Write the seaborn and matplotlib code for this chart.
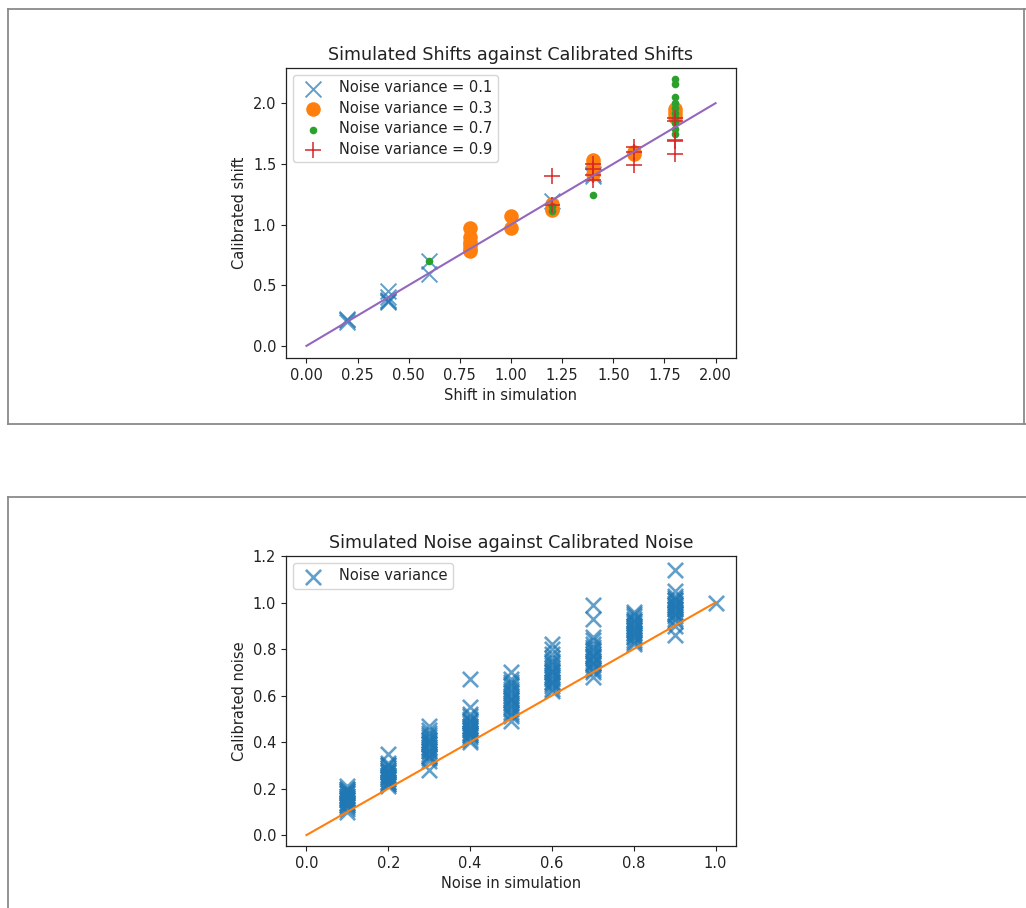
import matplotlib
matplotlib.use("Agg")
import matplotlib.pyplot as plt
from matplotlib.lines import Line2D
import seaborn as sns
import pandas as pd

# ---------------- Data: top chart (shift) ----------------
shift_v01_x = [0.2, 0.2, 0.2, 0.4, 0.4, 0.4, 0.4, 0.4, 0.6, 0.6, 1.2, 1.4, 1.4]
shift_v01_y = [0.20, 0.21, 0.22, 0.45, 0.40, 0.38, 0.36, 0.37, 0.70, 0.59, 1.19, 1.42, 1.40]

shift_v03_x = [0.8, 0.8, 0.8, 0.8, 0.8, 0.8, 1.0, 1.0, 1.2, 1.2, 1.2, 1.4, 1.4, 1.4, 1.6, 1.6, 1.8, 1.8, 1.8]
shift_v03_y = [0.97, 0.90, 0.86, 0.83, 0.80, 0.78, 1.07, 0.97, 1.17, 1.13, 1.12, 1.53, 1.50, 1.42, 1.60, 1.58, 1.92, 1.89, 1.95]

shift_v07_x = [0.6, 1.2, 1.2, 1.4, 1.8, 1.8, 1.8, 1.8, 1.8, 1.8, 1.8, 1.8, 1.8, 1.8]
shift_v07_y = [0.70, 1.11, 1.15, 1.24, 2.20, 2.16, 2.05, 2.00, 1.96, 1.92, 1.88, 1.84, 1.79, 1.75]

shift_v09_x = [1.2, 1.2, 1.4, 1.4, 1.4, 1.4, 1.6, 1.6, 1.6, 1.8, 1.8, 1.8, 1.8, 1.8]
shift_v09_y = [1.40, 1.16, 1.50, 1.46, 1.41, 1.37, 1.64, 1.60, 1.49, 1.88, 1.85, 1.70, 1.69, 1.58]

shift_line = [0.0, 2.0]

# ---------------- Data: bottom chart (noise) ----------------
noise_01 = [0.10, 0.12, 0.13, 0.14, 0.15, 0.15, 0.16, 0.16, 0.17, 0.17, 0.18, 0.18, 0.19, 0.20, 0.21, 0.13, 0.14, 0.19, 0.20, 0.11]
noise_02 = [0.21, 0.22, 0.23, 0.24, 0.25, 0.25, 0.26, 0.27, 0.27, 0.28, 0.29, 0.30, 0.31, 0.35, 0.24, 0.26, 0.28, 0.22, 0.30, 0.23]
noise_03 = [0.28, 0.32, 0.33, 0.34, 0.35, 0.36, 0.37, 0.38, 0.39, 0.40, 0.41, 0.42, 0.43, 0.44, 0.45, 0.47, 0.34, 0.36, 0.39, 0.41]
noise_04 = [0.40, 0.41, 0.42, 0.43, 0.44, 0.45, 0.46, 0.47, 0.48, 0.49, 0.50, 0.51, 0.52, 0.55, 0.67, 0.43, 0.45, 0.47, 0.49, 0.44]
noise_05 = [0.49, 0.51, 0.53, 0.54, 0.55, 0.56, 0.57, 0.58, 0.59, 0.60, 0.61, 0.62, 0.63, 0.64, 0.65, 0.66, 0.67, 0.70, 0.52, 0.58]
noise_06 = [0.62, 0.63, 0.64, 0.65, 0.66, 0.67, 0.68, 0.69, 0.70, 0.71, 0.72, 0.73, 0.74, 0.75, 0.76, 0.78, 0.80, 0.82, 0.66, 0.70]
noise_07 = [0.68, 0.70, 0.71, 0.72, 0.73, 0.74, 0.75, 0.76, 0.77, 0.78, 0.79, 0.80, 0.81, 0.82, 0.84, 0.85, 0.93, 0.99, 0.74, 0.77]
noise_08 = [0.82, 0.83, 0.84, 0.85, 0.86, 0.87, 0.88, 0.89, 0.90, 0.91, 0.92, 0.93, 0.94, 0.95, 0.96, 0.85, 0.88, 0.90, 0.92, 0.87]
noise_09 = [0.86, 0.90, 0.92, 0.93, 0.94, 0.95, 0.96, 0.97, 0.98, 0.99, 1.00, 1.01, 1.02, 1.03, 1.05, 1.14, 0.95, 0.97, 0.99, 1.01]
noise_10 = [1.00]
noise_levels = [0.1, 0.2, 0.3, 0.4, 0.5, 0.6, 0.7, 0.8, 0.9, 1.0]
noise_line = [0.0, 1.0]

noise_cols = [noise_01, noise_02, noise_03, noise_04, noise_05,
              noise_06, noise_07, noise_08, noise_09, noise_10]
noise_df = pd.DataFrame({
    "sim": [lvl for lvl, col in zip(noise_levels, noise_cols) for _ in col],
    "cal": [v for col in noise_cols for v in col],
})

# ---------------- Figure ----------------
W, H = 1026, 908
fig = plt.figure(figsize=(W / 100, H / 100), dpi=100)
fig.patch.set_facecolor("white")

FS = 10.5
plt.rcParams.update({"font.size": FS, "axes.titlesize": 12.6, "axes.labelsize": FS,
                     "xtick.labelsize": FS, "ytick.labelsize": FS, "legend.fontsize": FS,
                     "legend.labelspacing": 0.38, "legend.borderpad": 0.35,
                     "text.color": "#222222", "axes.labelcolor": "#222222",
                     "xtick.color": "#222222", "ytick.color": "#222222"})

def pos(left, top, right, bottom):
    return [left / W, 1 - bottom / H, (right - left) / W, (bottom - top) / H]

ax1 = fig.add_axes(pos(286, 68, 736, 358))
ax2 = fig.add_axes(pos(286, 556, 736, 846))

# Top chart
sns.scatterplot(x=shift_v01_x, y=shift_v01_y, ax=ax1, marker="x", color="C0", s=130,
                linewidth=1.4, alpha=0.7, label="Noise variance = 0.1")
sns.scatterplot(x=shift_v03_x, y=shift_v03_y, ax=ax1, marker="o", color="C1", s=110,
                linewidth=0, label="Noise variance = 0.3")
sns.scatterplot(x=shift_v07_x, y=shift_v07_y, ax=ax1, marker="o", color="C2", s=30,
                linewidth=0, label="Noise variance = 0.7")
sns.scatterplot(x=shift_v09_x, y=shift_v09_y, ax=ax1, marker="+", color="C3", s=130,
                linewidth=1.1, label="Noise variance = 0.9")
sns.lineplot(x=shift_line, y=shift_line, ax=ax1, color="C4", linewidth=1.5)
ax1.set_title("Simulated Shifts against Calibrated Shifts")
ax1.set_xlabel("Shift in simulation")
ax1.set_ylabel("Calibrated shift")
ax1.set_xticks([0.0, 0.25, 0.5, 0.75, 1.0, 1.25, 1.5, 1.75, 2.0])
ax1.set_xticklabels(["0.00", "0.25", "0.50", "0.75", "1.00", "1.25", "1.50", "1.75", "2.00"])
ax1.set_yticks([0.0, 0.5, 1.0, 1.5, 2.0])
ax1.set_xlim(-0.1, 2.1)
ax1.set_ylim(-0.1, 2.29)
ax1.legend(loc="upper left")

# Bottom chart
sns.scatterplot(data=noise_df, x="sim", y="cal", ax=ax2, marker="x", color="C0", s=120,
                linewidth=1.9, alpha=0.7, label="Noise variance")
sns.lineplot(x=noise_line, y=noise_line, ax=ax2, color="C1", linewidth=1.5)
ax2.set_title("Simulated Noise against Calibrated Noise")
ax2.set_xlabel("Noise in simulation")
ax2.set_ylabel("Calibrated noise")
ax2.set_xticks([0.0, 0.2, 0.4, 0.6, 0.8, 1.0])
ax2.set_yticks([0.0, 0.2, 0.4, 0.6, 0.8, 1.0, 1.2])
ax2.set_xlim(-0.05, 1.05)
ax2.set_ylim(-0.047, 1.2)
ax2.legend(loc="upper left")

for ax in (ax1, ax2):
    for s in ax.spines.values():
        s.set_linewidth(0.9)
        s.set_color("#222222")

# Document frame borders
def fline(x0, y0, x1, y1):
    fig.add_artist(Line2D([x0 / W, x1 / W], [1 - y0 / H, 1 - y1 / H],
                          transform=fig.transFigure, color="#8a8a8a", linewidth=1.3))

fline(8, 9, 1030, 9)
fline(8, 9, 8, 424)
fline(8, 424, 1030, 424)
fline(1024, 9, 1024, 424)
fline(8, 497, 1030, 497)
fline(8, 497, 8, 920)

fig.savefig("out.png", dpi=100)
